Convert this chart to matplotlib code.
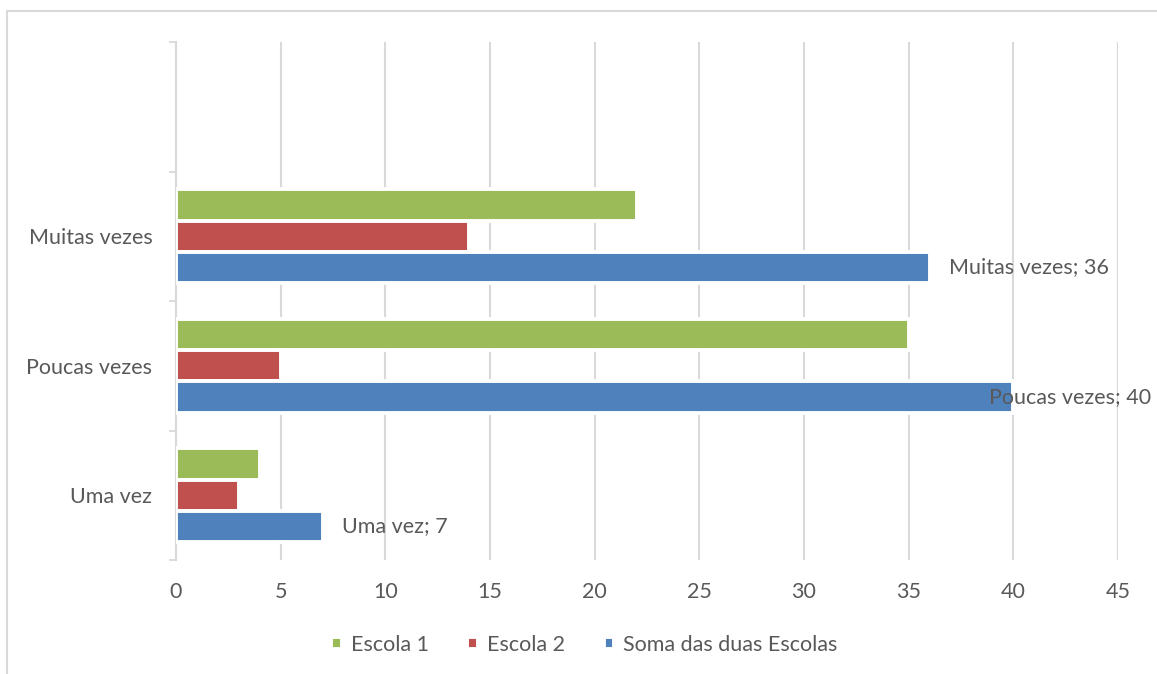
import matplotlib.pyplot as plt
import matplotlib.patches as mpatches
import numpy as np

# categories bottom to top; the fourth slot stays empty
categories = ['Uma vez', 'Poucas vezes', 'Muitas vezes', '']
escola_1 = [4, 35, 22]
escola_2 = [3, 5, 14]
soma = [7, 40, 36]
series_names = ['Escola 1', 'Escola 2', 'Soma das duas Escolas']
x_ticks = [0, 5, 10, 15, 20, 25, 30, 35, 40, 45]

colors = ['#9BBB59', '#C0504D', '#4F81BD']
text_color = '#595959'
grid_color = '#D9D9D9'
fs = 15.5

plt.rcParams['font.family'] = ['Lato', 'DejaVu Sans']

fig = plt.figure(figsize=(11.57, 6.74), dpi=100)
ax = fig.add_axes([176 / 1157, 1 - 560 / 674, (1118 - 176) / 1157, (560 - 42) / 674])

y = np.arange(len(escola_1))
slot = 0.242
handles = []
for i, (vals, c) in enumerate(zip([escola_1, escola_2, soma], colors)):
    offset = (1 - i) * slot
    b = ax.barh(y + offset, vals, height=slot, color=c,
                edgecolor='white', linewidth=2.8, zorder=3)
    handles.append(b)

# value labels on the sum series
for yi, cat, v in zip(y, categories, soma):
    dx = 19 if v < 40 else -24
    ax.annotate(f'{cat}; {v}', xy=(v, yi - slot), xytext=(dx, 0),
                textcoords='offset pixels', ha='left', va='center',
                fontsize=fs, color=text_color, zorder=4)

ax.set_xlim(0, 45)
ax.set_ylim(-0.5, 3.5)
ax.set_xticks(x_ticks)
ax.set_yticks(np.arange(len(categories)))
ax.set_yticklabels(categories)
ax.set_yticks(np.arange(-0.5, 4.0, 1.0), minor=True)
ax.tick_params(axis='y', which='major', length=0, pad=17,
               labelsize=fs, labelcolor=text_color)
ax.tick_params(axis='y', which='minor', length=5, width=1.3, color=grid_color)
ax.tick_params(axis='x', length=0, pad=16, labelsize=fs, labelcolor=text_color)

ax.grid(axis='x', color=grid_color, linewidth=1.5, zorder=0)
for side in ['top', 'right', 'bottom']:
    ax.spines[side].set_visible(False)
ax.spines['left'].set_color(grid_color)
ax.spines['left'].set_linewidth(1.5)

fig.legend(handles, series_names, loc='center', bbox_to_anchor=(0.505, 1 - 645 / 674),
           ncol=3, frameon=False, fontsize=fs, labelcolor=text_color,
           handlelength=0.5, handleheight=0.5, handletextpad=0.4, columnspacing=1.8)

# chart border
fig.patches.append(mpatches.Rectangle((7 / 1157, -0.1), 1.2, 1 - 11 / 674 + 0.1,
                                      transform=fig.transFigure, fill=False,
                                      edgecolor=grid_color, linewidth=1.5))

fig.savefig('out.png', dpi=100)
